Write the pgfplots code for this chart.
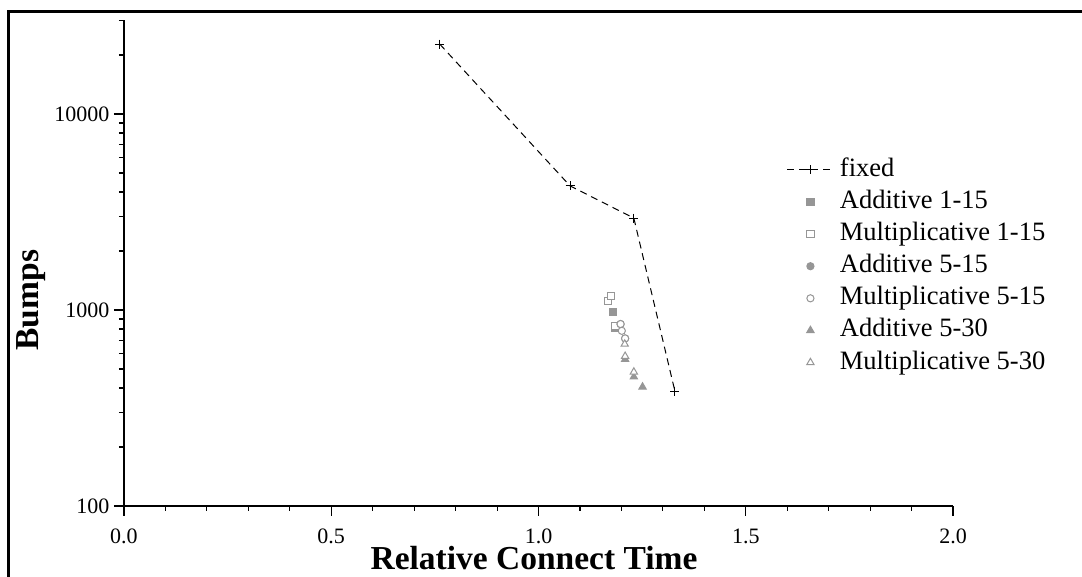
\documentclass[border=0pt]{standalone}
\usepackage{fontspec}
\setmainfont{Liberation Serif}
\usepackage{pgfplots}
\pgfplotsset{compat=1.18}
\definecolor{mk}{RGB}{150,150,150}
\pgfplotsset{
  lineleg/.style={legend image code/.code={\draw[##1, mark repeat=2, mark phase=2] plot coordinates {(0pt,0pt)(23pt,0pt)(46pt,0pt)};}},
  markleg/.style={legend image code/.code={\draw[##1] plot coordinates {(23pt,0pt)};}},
}
\begin{document}
\begin{tikzpicture}[x=1pt,y=1pt]
\begin{axis}[
  at={(0pt,0pt)}, anchor=south west,
  scale only axis, width=829pt, height=485.5pt,
  xmin=0, xmax=2, ymin=100, ymax=30000, ymode=log,
  axis x line*=bottom, axis y line*=left,
  axis line style={line width=1.2pt, black},
  every tick/.style={black, line width=1.1pt},
  tick align=outside,
  major tick length=10pt, minor tick length=5pt,
  xtick={0,0.5,1,1.5,2}, xticklabels={0.0,0.5,1.0,1.5,2.0},
  minor xtick={0.1,0.2,0.3,0.4,0.6,0.7,0.8,0.9,1.1,1.2,1.3,1.4,1.6,1.7,1.8,1.9},
  ytick={100,1000,10000}, yticklabels={100,1000,10000},
  minor ytick={200,300,400,500,600,700,800,900,2000,3000,4000,5000,6000,7000,8000,9000,20000,30000},
  every tick label/.style={font=\fontsize{22}{25}\selectfont},
  xticklabel style={inner sep=1pt, yshift=-12pt},
  yticklabel style={xshift=-1pt},
  /pgf/number format/assume math mode=true,
  xlabel={Relative Connect Time}, ylabel={Bumps},
  every axis x label/.style={at={(axis description cs:0.4946,-0.131)}, anchor=base, inner sep=0pt, font=\bfseries\fontsize{33.5}{36}\selectfont},
  every axis y label/.style={at={(axis description cs:-0.112,0.424)}, rotate=90, anchor=center, inner sep=0pt, font=\bfseries\fontsize{33.5}{36}\selectfont},
  legend style={draw=none, fill=none, at={(axis description cs:0.7958,0.7225)}, anchor=north west,
    font=\fontsize{26.5}{30}\selectfont, row sep=7.1pt, column sep=6pt,
    nodes={inner sep=0pt, text height=19pt, text depth=6pt}},
  legend cell align=left,
  clip=false,
]
\addplot[black, line width=1pt, dash pattern=on 7pt off 5pt, mark=+, mark size=4.5pt, mark options={solid}, lineleg]
  coordinates {(0.762,22700)(1.076,4300)(1.230,2944)(1.329,386)};
\addlegendentry{fixed}
\addplot[only marks, mark=square*, mark size=3.6pt, mark options={draw=mk, fill=mk, line width=1pt}, markleg]
  coordinates {(1.180,975)(1.186,810)};
\addlegendentry{Additive 1-15}
\addplot[only marks, mark=square*, mark size=3.6pt, mark options={draw=mk, fill=white, line width=1pt}, markleg]
  coordinates {(1.168,1115)(1.175,1180)(1.186,830)};
\addlegendentry{Multiplicative 1-15}
\addplot[only marks, mark=*, mark size=3.6pt, mark options={draw=mk, fill=mk, line width=1pt}, markleg]
  coordinates {(1.198,848)(1.209,716)};
\addlegendentry{Additive 5-15}
\addplot[only marks, mark=*, mark size=3.6pt, mark options={draw=mk, fill=white, line width=1pt}, markleg]
  coordinates {(1.198,848)(1.201,783)(1.209,716)};
\addlegendentry{Multiplicative 5-15}
\addplot[only marks, mark=triangle*, mark size=4.2pt, mark options={draw=mk, fill=mk, line width=1pt}, markleg]
  coordinates {(1.209,560)(1.230,456)(1.251,405)};
\addlegendentry{Additive 5-30}
\addplot[only marks, mark=triangle*, mark size=4.2pt, mark options={draw=mk, fill=white, line width=1pt}, markleg]
  coordinates {(1.208,670)(1.209,581)(1.230,483)};
\addlegendentry{Multiplicative 5-30}
\end{axis}
\draw[line width=3.5pt] (-115.3,-90) -- (-115.3,494.3) -- (990,494.3);
\pgfresetboundingbox
\useasboundingbox (-124,-70) rectangle (958,506);
\end{tikzpicture}
\end{document}
